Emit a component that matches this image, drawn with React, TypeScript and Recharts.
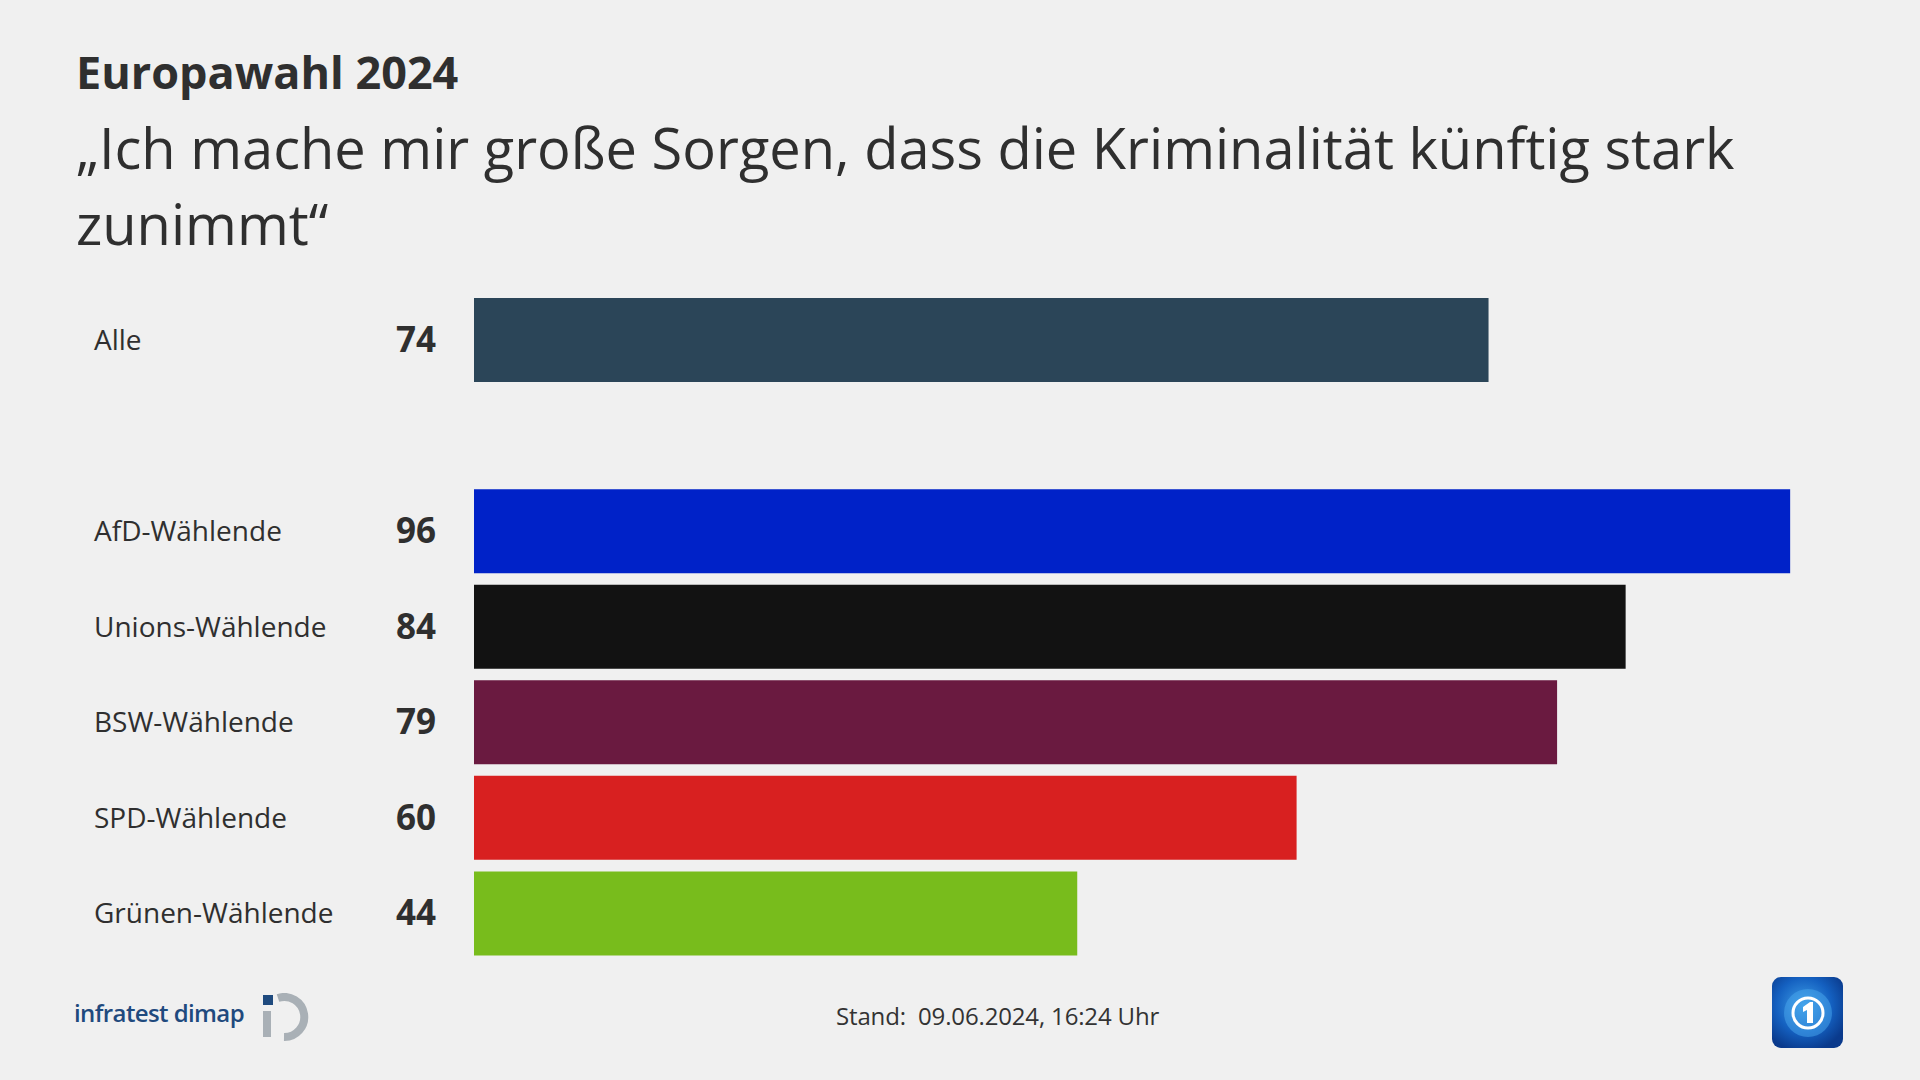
import React from "react";
import { BarChart, Bar, XAxis, YAxis, Cell } from "recharts";

const categories = ["Alle", "", "AfD-Wählende", "Unions-Wählende", "BSW-Wählende", "SPD-Wählende", "Grünen-Wählende"];
const values = [74, null, 96, 84, 79, 60, 44];
const colors = ["#2b4558", "transparent", "#0022c8", "#121212", "#6a1a40", "#d82020", "#78bc1c"];

const data = categories.map((c, i) => ({ key: `row-${i}`, name: c, value: values[i] }));

const FONT = "'Open Sans', 'Noto Sans', sans-serif";
const TEXT = "#2f2f2f";

const RowTick = ({ y, payload }: any) => {
  const row = data.find((d) => d.key === payload.value);
  if (!row || row.value == null) return null;
  return (
    <g>
      <text x={94} y={y} dy={10} fontSize={28} fill={TEXT} fontFamily={FONT}>
        {row.name}
      </text>
      <text x={436} y={y} dy={12} fontSize={35} fontWeight={700} textAnchor="end" fill={TEXT} fontFamily={FONT}>
        {row.value}
      </text>
    </g>
  );
};

export default function App() {
  return (
    <div style={{ position: "absolute", left: 0, top: 0, width: 1920, height: 1080, background: "#f0f0f0", fontFamily: FONT, color: TEXT, overflow: "hidden" }}>
      <div style={{ position: "absolute", left: 76, top: 41, fontSize: 45, fontWeight: 700, color: "#2f2f2f" }}>Europawahl 2024</div>
      <div style={{ position: "absolute", left: 76, top: 109, fontSize: 56, lineHeight: "76px", color: "#2f2f2f", width: 1820 }}>
        „Ich mache mir große Sorgen, dass die Kriminalität künftig stark
        <br />
        zunimmt“
      </div>

      <div style={{ position: "absolute", left: 0, top: 292 }}>
        <BarChart width={1920} height={669} data={data} layout="vertical" margin={{ top: 0, right: 75, bottom: 0, left: 0 }} barCategoryGap={6}>
          <XAxis type="number" domain={[0, 100]} hide />
          <YAxis type="category" dataKey="key" width={474} axisLine={false} tickLine={false} tick={<RowTick />} interval={0} />
          <Bar dataKey="value" barSize={84} isAnimationActive={false}>
            {data.map((d, i) => (
              <Cell key={d.key} fill={colors[i]} />
            ))}
          </Bar>
        </BarChart>
      </div>

      {/* footer */}
      <div style={{ position: "absolute", left: 74, top: 996, fontSize: 24, fontWeight: 600, color: "#1f4a7e", letterSpacing: -0.6 }}>infratest dimap</div>
      <svg style={{ position: "absolute", left: 261, top: 993 }} width={50} height={48} viewBox="0 0 50 48">
        <path d="M 17 5 A 20 20 0 1 1 23 44" fill="none" stroke="#a9b0b6" strokeWidth={8} />
        <rect x={2} y={18} width={8} height={26} fill="#a9b0b6" />
        <rect x={2} y={2} width={10} height={10} fill="#1f4a7e" />
      </svg>
      <div style={{ position: "absolute", left: 836, top: 999, fontSize: 24, color: "#333", letterSpacing: -0.15 }}>Stand:&nbsp; 09.06.2024, 16:24 Uhr</div>
      <svg style={{ position: "absolute", left: 1772, top: 977 }} width={71} height={71} viewBox="0 0 71 71">
        <defs>
          <radialGradient id="ardg" cx="45%" cy="40%" r="65%">
            <stop offset="0%" stopColor="#3fa0e8" />
            <stop offset="60%" stopColor="#1460c0" />
            <stop offset="100%" stopColor="#0a3a8c" />
          </radialGradient>
        </defs>
        <rect x={0} y={0} width={71} height={71} rx={9} fill="url(#ardg)" />
        <circle cx={36} cy={36} r={24} fill="#4aa8ee" opacity={0.5} />
        <circle cx={36} cy={36} r={15} fill="none" stroke="#fff" strokeWidth={3} />
        <path d="M 31 30 L 38 25 L 41 25 L 41 46 L 35 46 L 35 33 L 31 35 Z" fill="#fff" />
      </svg>
    </div>
  );
}
